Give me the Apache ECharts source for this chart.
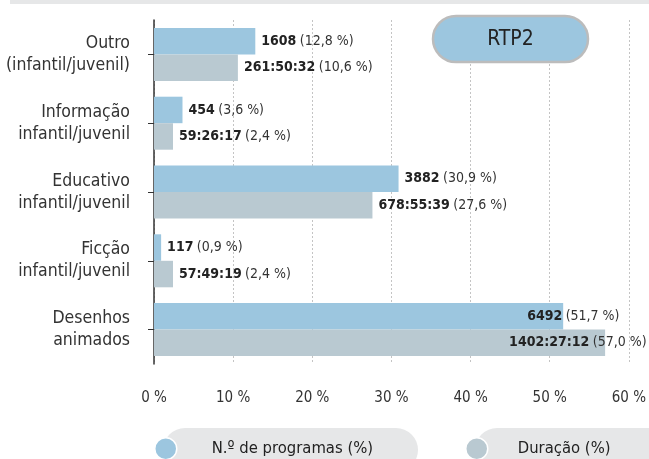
<!DOCTYPE html>
<html>
<head>
<meta charset="utf-8">
<script src="https://cdn.jsdelivr.net/npm/echarts@6/dist/echarts.min.js"></script>
<style>
html,body{margin:0;padding:0;background:#fff;}
#c{width:649px;height:459px;}
</style>
</head>
<body>
<div id="c"></div>
<script>
var categories = ['Outro\n(infantil/juvenil)', 'Informação\ninfantil/juvenil', 'Educativo\ninfantil/juvenil', 'Ficção\ninfantil/juvenil', 'Desenhos\nanimados'];
var programCounts = [1608, 454, 3882, 117, 6492];
var programPct = [12.8, 3.6, 30.9, 0.9, 51.7];
var durations = ['261:50:32', '59:26:17', '678:55:39', '57:49:19', '1402:27:12'];
var durationPct = [10.6, 2.4, 27.6, 2.4, 57.0];
var xTicks = [0, 10, 20, 30, 40, 50, 60];
var seriesNames = ['N.º de programas (%)', 'Duração (%)'];

var FONT = '"Liberation Sans Narrow", "DejaVu Sans Condensed", "Roboto", sans-serif';
var BLUE = '#9cc6df';
var GREY = '#b9c9d1';

function fmtPct(v) { return '(' + v.toFixed(1).replace('.', ',') + ' %)'; }

var rich = {
  b: { fontFamily: FONT, fontSize: 14, fontWeight: 'bold', color: '#222' },
  n: { fontFamily: FONT, fontSize: 14, color: '#333' }
};

var lastIdx = categories.length - 1;
var blueData = programPct.map(function (v, i) {
  var d = { value: v };
  if (i === lastIdx) d.label = { offset: [-42, 0] };
  return d;
});
var greyData = durationPct.map(function (v, i) {
  var d = { value: v };
  if (i === lastIdx) d.label = { offset: [-102, 0] };
  return d;
});

var chart = echarts.init(document.getElementById('c'), null, { renderer: 'canvas' });
chart.setOption({
  animation: false,
  backgroundColor: '#fff',
  textStyle: { fontFamily: FONT },
  grid: { left: 154, right: 19, top: 20, bottom: 95, containLabel: false },
  xAxis: {
    type: 'value', min: xTicks[0], max: xTicks[xTicks.length - 1], interval: 10,
    axisLine: { show: false }, axisTick: { show: false },
    splitLine: { show: true, lineStyle: { color: '#c4c4c4', type: [2, 2], width: 1 } },
    axisLabel: { formatter: '{value} %', fontFamily: FONT, fontSize: 15, color: '#333', margin: 27 }
  },
  yAxis: {
    type: 'category', data: categories, inverse: true,
    axisLine: { show: true, lineStyle: { color: '#333', width: 1.5 } },
    axisTick: { show: true, alignWithLabel: true, length: 6, lineStyle: { color: '#333', width: 1 } },
    axisLabel: { fontFamily: FONT, fontSize: 17.5, color: '#333', lineHeight: 22, margin: 24, align: 'right' }
  },
  legend: [
    { data: [seriesNames[0]], left: 154, top: 437, padding: 0, icon: 'circle', itemWidth: 22, itemHeight: 22,
      itemStyle: { borderColor: '#fff', borderWidth: 1.5 },
      textStyle: { fontFamily: FONT, fontSize: 16.5, color: '#222', padding: [0, 0, 0, 30] }, selectedMode: false },
    { data: [seriesNames[1]], left: 465, top: 437, padding: 0, icon: 'circle', itemWidth: 22, itemHeight: 22,
      itemStyle: { borderColor: '#fff', borderWidth: 1.5 },
      textStyle: { fontFamily: FONT, fontSize: 16.5, color: '#222', padding: [0, 0, 0, 25] }, selectedMode: false }
  ],
  graphic: [
    { type: 'rect', z: -10, shape: { x: 10, y: 0, width: 639, height: 4 }, style: { fill: '#e6e7e8' } },
    { type: 'rect', z: -10, shape: { x: 163, y: 428, width: 255, height: 44, r: 22 }, style: { fill: '#e6e7e8' } },
    { type: 'rect', z: -10, shape: { x: 475, y: 428, width: 220, height: 44, r: 22 }, style: { fill: '#e6e7e8' } },
    { type: 'rect', z: 10, shape: { x: 433, y: 16, width: 155, height: 46, r: 23 }, style: { fill: BLUE, stroke: '#bcbcbc', lineWidth: 2.5 } },
    { type: 'text', z: 11, x: 510.5, y: 40, style: { text: 'RTP2', fontFamily: FONT, fontSize: 21, fill: '#222', align: 'center', verticalAlign: 'middle' } }
  ],
  series: [
    {
      name: seriesNames[0], type: 'bar', data: blueData, barWidth: 26.5, barGap: '0%', barCategoryGap: '20%',
      itemStyle: { color: BLUE },
      label: { show: true, position: 'right', distance: 6, rich: rich,
        formatter: function (p) { return '{b|' + programCounts[p.dataIndex] + '} {n|' + fmtPct(programPct[p.dataIndex]) + '}'; } }
    },
    {
      name: seriesNames[1], type: 'bar', data: greyData, barWidth: 26.5, barGap: '0%',
      itemStyle: { color: GREY },
      label: { show: true, position: 'right', distance: 6, rich: rich,
        formatter: function (p) { return '{b|' + durations[p.dataIndex] + '} {n|' + fmtPct(durationPct[p.dataIndex]) + '}'; } }
    }
  ]
});
</script>
</body>
</html>
